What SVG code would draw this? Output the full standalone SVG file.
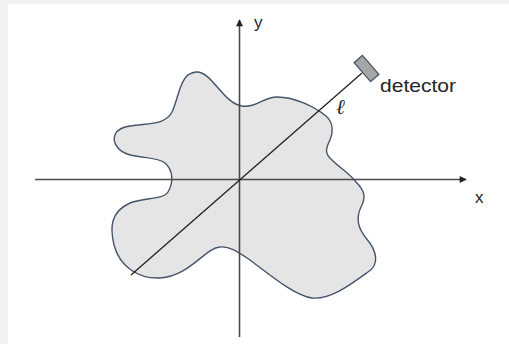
<svg xmlns="http://www.w3.org/2000/svg" width="509" height="344" viewBox="0 0 509 344">
<style>
.lbl{font-family:"Liberation Sans","DejaVu Sans",sans-serif;fill:#262626}
.axis{stroke:#4a4a4a;stroke-width:1.6;fill:none}
.ray{stroke:#222;stroke-width:1.3;fill:none}
</style>
<defs>
<marker id="ah" viewBox="0 0 10 10" refX="9" refY="5" markerWidth="8" markerHeight="7" markerUnits="userSpaceOnUse" orient="auto">
<path d="M0,0 L10,5 L0,10 Z" fill="#222"/>
</marker>
</defs>
<rect x="0" y="0" width="509" height="344" fill="#f2f2f2"/>
<rect x="8" y="4" width="501" height="340" fill="#ffffff"/>
<g id="object">
<path d="M197,72 C212,72 224,104 242,106 C256,108 263,97 277,97 C295,97 315,107 326,116 C334,123 333,133 330,140 C326,148 324,153 332,160 C340,168 350,174 356,182 C364,190 366,196 362,205 C355,218 358,228 366,238 C378,252 379,265 368,272 C350,285 330,300 312,298 C295,296 270,275 250,260 C238,252 230,246 220,247 C205,248 190,276 160,278 C140,279 120,268 114,245 C110,228 110,212 130,203 C145,197 163,200 168,192 C174,182 173,170 165,163 C155,155 128,160 118,148 C110,138 115,128 130,126 C150,123 165,125 172,112 C178,100 180,76 192,73 C194,72 196,72 197,72 Z" fill="#e5e5e5" stroke="#44546a" stroke-width="1.4"/>
</g>
<g id="connectors">
<line class="axis" x1="35" y1="179.5" x2="466" y2="179.5" marker-end="url(#ah)"/>
<line class="axis" x1="239.5" y1="337" x2="239.5" y2="20" marker-end="url(#ah)"/>
<line class="ray" x1="131" y1="275" x2="362" y2="73"/>
</g>
<g id="detector">
<rect x="-12.5" y="-5.5" width="25" height="11" fill="#a6a6a6" stroke="#44546a" stroke-width="1.3" transform="translate(366.5,68.5) rotate(49)"/>
<text class="lbl" x="380" y="92" font-size="19" textLength="76" lengthAdjust="spacingAndGlyphs">detector</text>
</g>
<g id="labels">
<text class="lbl" x="254" y="28" font-size="17">y</text>
<text class="lbl" x="475" y="203" font-size="17">x</text>
<text x="336" y="114" font-size="21" font-style="italic" font-family="'DejaVu Serif',serif" fill="#262626">ℓ</text>
</g>
</svg>
